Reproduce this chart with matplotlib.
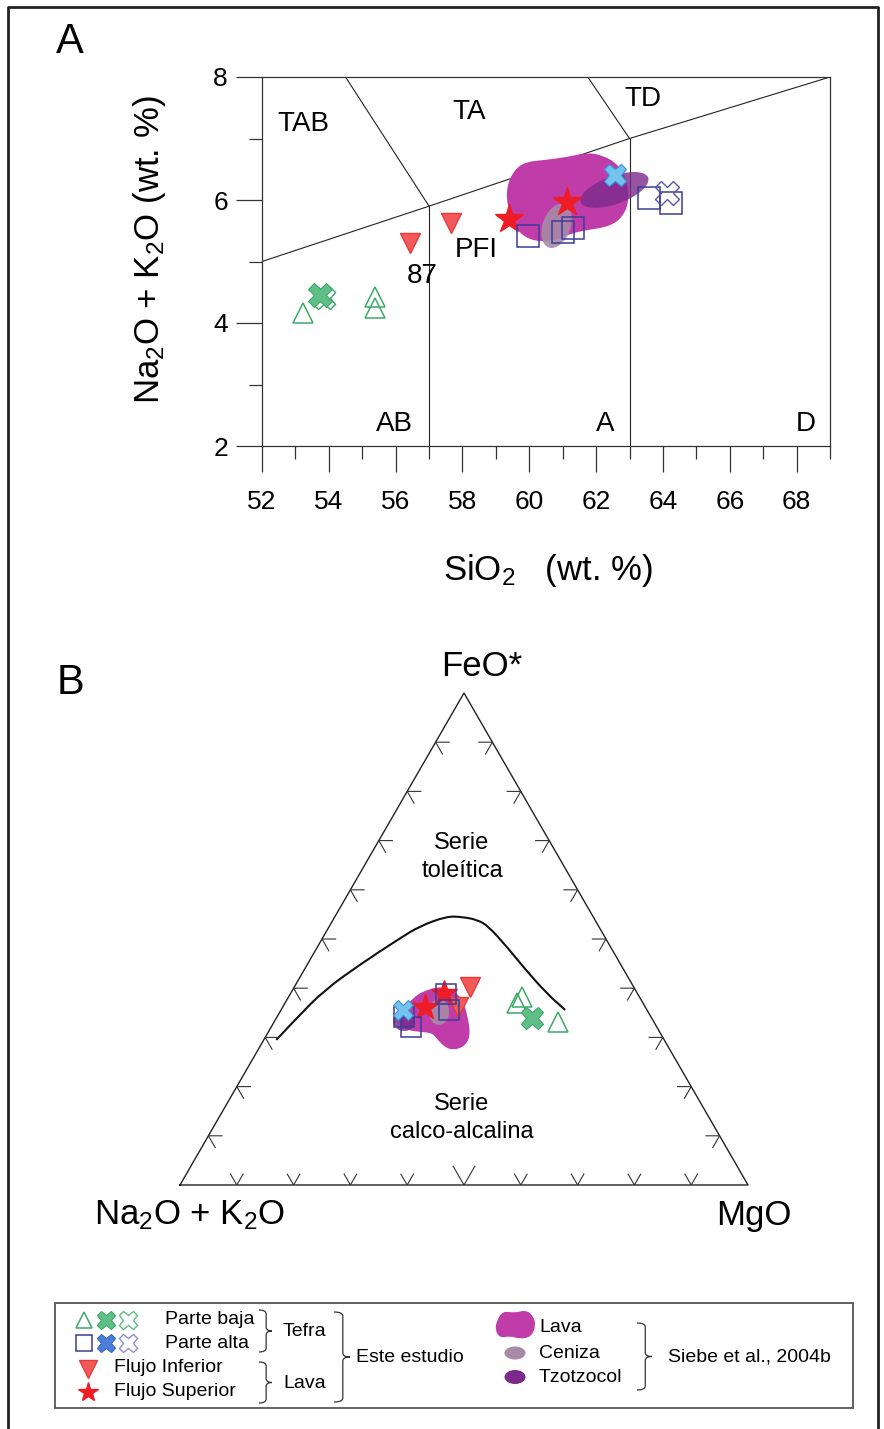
import numpy as np
import matplotlib
matplotlib.use("Agg")
import matplotlib.pyplot as plt
from matplotlib.path import Path
from matplotlib.patches import PathPatch, Rectangle, Ellipse
from matplotlib.ticker import MultipleLocator

plt.rcParams['font.family'] = ['Liberation Sans', 'DejaVu Sans']
plt.rcParams['mathtext.fontset'] = 'custom'
plt.rcParams['mathtext.rm'] = 'Liberation Sans'
plt.rcParams['mathtext.it'] = 'Liberation Sans:italic'

# ---------------- panel A: TAS (SiO2 vs Na2O+K2O) ----------------
baja_tri_si = [53.24, 55.39, 55.39]
baja_tri_alk = [4.16, 4.42, 4.24]
baja_x_si = [53.75]
baja_x_alk = [4.45]
baja_xo_si = [53.85]
baja_xo_alk = [4.40]
alta_sq_si = [59.95, 61.01, 61.30, 63.59, 64.25]
alta_sq_alk = [5.41, 5.48, 5.55, 6.03, 5.95]
alta_x_si = [62.58]
alta_x_alk = [6.41]
alta_xo_si = [64.13]
alta_xo_alk = [6.11]
inf_si = [56.43, 57.65]
inf_alk = [5.30, 5.63]
sup_si = [59.40, 61.13]
sup_alk = [5.69, 5.97]

# fields of Siebe et al. (2004b)
lava_si = [59.55, 59.89, 60.46, 61.15, 61.72, 62.18, 62.64, 62.93, 62.99, 62.81,
           62.41, 61.72, 61.27, 60.81, 60.35, 59.89, 59.55, 59.34, 59.32]
lava_alk = [6.49, 6.62, 6.65, 6.70, 6.77, 6.73, 6.59, 6.32, 6.00, 5.73,
            5.57, 5.51, 5.46, 5.35, 5.32, 5.38, 5.57, 5.89, 6.22]
ceniza_si = [61.07, 61.29, 61.24, 60.93, 60.56, 60.34, 60.39, 60.70]
ceniza_alk = [5.96, 5.79, 5.49, 5.25, 5.20, 5.37, 5.66, 5.91]
tzotz_si = [63.64, 63.43, 62.70, 61.88, 61.45, 61.67, 62.39, 63.21]
tzotz_alk = [6.38, 6.15, 5.93, 5.85, 5.95, 6.17, 6.39, 6.48]

# TAS boundaries
tas_lines = [
    ([52, 57, 63, 69], [5, 5.9, 7, 8]),
    ([57, 57], [2, 5.9]),
    ([63, 63], [2, 7]),
    ([57, 54.5], [5.9, 8]),
    ([63, 61.75], [7, 8]),
]
tas_names = ['TAB', 'TA', 'TD', 'AB', 'A', 'D']
tas_name_si = [53.24, 58.19, 63.41, 55.97, 62.27, 68.26]
tas_name_alk = [7.24, 7.43, 7.65, 2.35, 2.35, 2.35]

# ---------------- panel B: AFM (FeO*, MgO in %) ----------------
b_baja_tri_f = [38.3, 37.0, 33.2]
b_baja_tri_m = [41.0, 40.8, 49.9]
b_baja_x_f = [33.9]
b_baja_x_m = [45.0]
b_alta_sq_f = [38.8, 35.6, 34.2, 32.1]
b_alta_sq_m = [27.4, 29.6, 22.3, 24.6]
b_alta_x_f = [35.6]
b_alta_x_m = [21.5]
b_inf_f = [40.3, 36.2]
b_inf_m = [30.9, 30.9]
b_sup_f = [36.2, 39.0]
b_sup_m = [25.0, 27.0]

b_lava_f = [34.2, 38.2, 40.0, 40.3, 38.2, 34.2, 30.1, 27.9, 27.4, 28.9, 30.9, 31.1, 31.5, 32.5]
b_lava_m = [21.3, 21.9, 24.0, 26.9, 30.5, 33.6, 36.1, 35.9, 33.8, 31.3, 29.1, 26.7, 24.2, 22.5]
b_ceniza_f = [35.2, 33.2, 32.3, 33.2, 35.2, 37.2, 38.0, 37.2]
b_ceniza_m = [29.9, 30.4, 29.4, 27.6, 26.1, 25.6, 26.6, 28.4]
b_tzotz_f = [33.3, 31.8, 31.1, 31.8, 33.3, 34.9, 35.6, 34.9]
b_tzotz_m = [24.9, 25.1, 23.9, 22.1, 20.7, 20.5, 21.7, 23.5]

# Irvine & Baragar (1971) boundary
ib_f = [29.5, 34.0, 39.6, 45.1, 50.2, 52.6, 54.6, 54.5, 53.9, 52.6, 48.2, 44.3, 39.0, 35.6]
ib_m = [2.2, 3.6, 5.6, 9.5, 13.7, 15.9, 19.6, 22.4, 25.4, 28.0, 33.6, 38.3, 45.0, 50.0]

GREEN = '#3ba96a'
GREEN_FILL = '#5fbf86'
NAVY = '#3b3d9a'
LBLUE = '#72c3ef'
LBLUE_EDGE = '#3f8fd6'
XO_BLUE = '#5558ad'
RED_TRI = '#f25a5a'
RED_TRI_EDGE = '#e63a3a'
STAR = '#ee1c25'
LAVA = '#c03ca9'
CENIZA = '#a78aa6'
TZOTZ = '#7b2a8c'


def smooth_closed(xs, ys):
    pts = np.column_stack([xs, ys])
    mids = (pts + np.roll(pts, -1, axis=0)) / 2
    verts = [mids[-1]]
    codes = [Path.MOVETO]
    for i in range(len(pts)):
        verts += [pts[i], mids[i]]
        codes += [Path.CURVE3, Path.CURVE3]
    return Path(verts, codes)


def smooth_open(xs, ys):
    pts = np.column_stack([xs, ys])
    verts = [pts[0]]
    codes = [Path.MOVETO]
    for i in range(1, len(pts) - 1):
        verts += [pts[i], (pts[i] + pts[i + 1]) / 2]
        codes += [Path.CURVE3, Path.CURVE3]
    verts.append(pts[-1])
    codes.append(Path.LINETO)
    return Path(verts, codes)


def tern(f, m):
    f = np.asarray(f) / 100.0
    m = np.asarray(m) / 100.0
    return m + f / 2, f * np.sqrt(3) / 2


def brace(ax, x, y0, y1, w, lw=0.9):
    ym = (y0 + y1) / 2
    r = 4
    xm = x + w * 0.55
    verts = [(x, y0), (xm, y0), (xm, y0 + r), (xm, ym - r), (xm, ym), (x + w, ym),
             (xm, ym), (xm, ym + r), (xm, y1 - r), (xm, y1), (x, y1)]
    codes = [Path.MOVETO, Path.CURVE3, Path.CURVE3, Path.LINETO, Path.CURVE3, Path.CURVE3,
             Path.CURVE3, Path.CURVE3, Path.LINETO, Path.CURVE3, Path.CURVE3]
    ax.add_patch(PathPatch(Path(verts, codes), fc='none', ec='#333333', lw=lw))


fig = plt.figure(figsize=(8.84, 14.29), dpi=100)

# overlay in pixel units (frame, panel letters, labels, legend)
ov = fig.add_axes([0, 0, 1, 1])
ov.set_xlim(0, 884)
ov.set_ylim(1429, 0)
ov.axis('off')
ov.plot([8, 8, 878, 878], [1440, 7, 7, 1440], color='#222222', lw=2)
ov.text(70, 42, 'A', fontsize=30, ha='center', va='center')
ov.text(70, 683, 'B', fontsize=30, ha='center', va='center')
ov.text(150, 250, 'Na$_2$O + K$_2$O (wt. %)', fontsize=25, rotation=90, ha='center', va='center')
ov.text(548, 570, 'SiO$_2$   (wt. %)', fontsize=25, ha='center', va='center')
ov.text(482, 666, 'FeO*', fontsize=25, ha='center', va='center')
ov.text(190, 1215, 'Na$_2$O + K$_2$O', fontsize=25, ha='center', va='center')
ov.text(754, 1215, 'MgO', fontsize=25, ha='center', va='center')
ov.text(462, 857, 'Serie\ntoleítica', fontsize=17, ha='center', va='center', linespacing=1.3)
ov.text(462, 1118, 'Serie\ncalco-alcalina', fontsize=17, ha='center', va='center', linespacing=1.3)

# legend
ov.add_patch(Rectangle((55, 1303), 798, 105, fc='none', ec='#555555', lw=1.3))
ov.plot([84], [1320], '^', ms=12, mfc='none', mec=GREEN, mew=1.1)
ov.plot([106], [1320], 'X', ms=13, mfc=GREEN_FILL, mec=GREEN, mew=0.8)
ov.plot([128], [1320], 'X', ms=13, mfc='none', mec=GREEN_FILL, mew=1.0)
ov.plot([84], [1343], 's', ms=11, mfc='none', mec=NAVY, mew=1.1)
ov.plot([106], [1343], 'X', ms=13, mfc='#4a7fd8', mec='#3a66c0', mew=0.8)
ov.plot([128], [1343], 'X', ms=13, mfc='none', mec='#8c8fd6', mew=1.0)
ov.plot([88], [1369], 'v', ms=13, mfc=RED_TRI, mec=RED_TRI_EDGE)
ov.plot([88], [1392], '*', ms=15, color=STAR)
lfs = 14
ov.text(165, 1320, 'Parte baja', fontsize=lfs, va='center')
ov.text(165, 1343, 'Parte alta', fontsize=lfs, va='center')
ov.text(114, 1368, 'Flujo Inferior', fontsize=lfs, va='center')
ov.text(114, 1392, 'Flujo Superior', fontsize=lfs, va='center')
brace(ov, 259, 1310, 1352, 13)
ov.text(283, 1331, 'Tefra', fontsize=lfs, va='center')
brace(ov, 259, 1362, 1403, 13)
ov.text(283, 1383, 'Lava', fontsize=lfs, va='center')
brace(ov, 334, 1312, 1402, 16)
ov.text(356, 1357, 'Este estudio', fontsize=lfs, va='center')
icon_x = [497, 503, 515, 525, 533, 536, 531, 520, 510, 500, 495]
icon_y = [1320, 1311, 1313, 1310, 1315, 1326, 1337, 1339, 1336, 1338, 1330]
ov.add_patch(PathPatch(smooth_closed(icon_x, icon_y), fc=LAVA, ec='none'))
ov.add_patch(Ellipse((515, 1353), 21, 13, fc=CENIZA, ec='none'))
ov.add_patch(Ellipse((515, 1377), 21, 14, fc=TZOTZ, ec='none'))
ov.text(539, 1328, 'Lava', fontsize=lfs, va='center')
ov.text(539, 1353, 'Ceniza', fontsize=lfs, va='center')
ov.text(539, 1377, 'Tzotzocol', fontsize=lfs, va='center')
brace(ov, 637, 1323, 1390, 15)
ov.text(668, 1357, 'Siebe et al., 2004b', fontsize=lfs, va='center')

# ---------------- panel A ----------------
axa = fig.add_axes([262 / 884, 1 - 446 / 1429, 568 / 884, 369 / 1429])
axa.set_xlim(52, 69)
axa.set_ylim(2, 8)
for s in axa.spines.values():
    s.set_linewidth(0.9)
    s.set_color('#333333')
axa.xaxis.set_major_locator(MultipleLocator(2))
axa.xaxis.set_minor_locator(MultipleLocator(1))
axa.yaxis.set_major_locator(MultipleLocator(2))
axa.yaxis.set_minor_locator(MultipleLocator(1))
axa.set_xticks(range(52, 69, 2))
axa.tick_params(axis='both', which='major', length=18.5, width=0.9, color='#333333', labelsize=19)
axa.tick_params(axis='both', which='minor', length=9.4, width=0.9, color='#333333')
axa.tick_params(axis='x', which='major', pad=13)
axa.tick_params(axis='y', which='major', pad=6)

for xs, ys in tas_lines:
    axa.plot(xs, ys, color='#222222', lw=0.8, zorder=1)
for name, x, y in zip(tas_names, tas_name_si, tas_name_alk):
    axa.text(x, y, name, fontsize=20, ha='center', va='center')
axa.text(56.8, 4.76, '87', fontsize=20, ha='center', va='center')
axa.text(58.4, 5.19, 'PFI', fontsize=20, ha='center', va='center')

axa.add_patch(PathPatch(smooth_closed(lava_si, lava_alk), fc=LAVA, ec='none', zorder=2))
axa.add_patch(PathPatch(smooth_closed(tzotz_si, tzotz_alk), fc=TZOTZ, ec='none', alpha=0.8, zorder=3))
axa.add_patch(PathPatch(smooth_closed(ceniza_si, ceniza_alk), fc=CENIZA, ec='none', alpha=0.9, zorder=3))

mk = dict(ls='none', zorder=5, clip_on=False)
axa.plot(baja_tri_si, baja_tri_alk, '^', ms=15, mfc='none', mec=GREEN, mew=1.1, **mk)
axa.plot(baja_xo_si, baja_xo_alk, 'X', ms=16, mfc='none', mec=GREEN, mew=1.0, **mk)
axa.plot(baja_x_si, baja_x_alk, 'X', ms=17, mfc=GREEN_FILL, mec=GREEN, mew=0.8, **mk)
axa.plot(inf_si, inf_alk, 'v', ms=15, mfc=RED_TRI, mec=RED_TRI_EDGE, mew=1, **mk)
axa.plot(sup_si, sup_alk, '*', ms=21, color=STAR, **mk)
axa.plot(alta_sq_si, alta_sq_alk, 's', ms=16, mfc='none', mec=NAVY, mew=1.1, **mk)
axa.plot(alta_x_si, alta_x_alk, 'X', ms=16, mfc=LBLUE, mec=LBLUE_EDGE, mew=0.8, **mk)
axa.plot(alta_xo_si, alta_xo_alk, 'X', ms=17, mfc='none', mec=XO_BLUE, mew=1.0, **mk)

# ---------------- panel B ----------------
axb = fig.add_axes([180 / 884, 1 - 1185 / 1429, 568 / 884, 492 / 1429])
axb.set_xlim(0, 1)
axb.set_ylim(0, np.sqrt(3) / 2)
axb.axis('off')
h = np.sqrt(3) / 2
axb.plot([0, 1, 0.5, 0], [0, 0, h, 0], color='#222222', lw=1.0, clip_on=False)

# tick marks on the triangle edges
for i in range(1, 10):
    t = i / 10
    L = 0.038 if i == 5 else 0.022
    bx = t
    axb.plot([bx - 0.5 * L, bx, bx + 0.5 * L], [h * L, 0, h * L], color='#333333', lw=0.8)
    L = 0.024
    lx, ly = 0.5 * t, h * t
    axb.plot([lx + L, lx, lx + 0.5 * L], [ly, ly, ly - h * L], color='#333333', lw=0.8)
    rx, ry = 1 - 0.5 * t, h * t
    axb.plot([rx - L, rx, rx - 0.5 * L], [ry, ry, ry - h * L], color='#333333', lw=0.8)

cx, cy = tern(ib_f, ib_m)
axb.add_patch(PathPatch(smooth_open(cx, cy), fc='none', ec='#111111', lw=1.5))

px, py = tern(b_lava_f, b_lava_m)
axb.add_patch(PathPatch(smooth_closed(px, py), fc=LAVA, ec='none', zorder=2))
px, py = tern(b_tzotz_f, b_tzotz_m)
axb.add_patch(PathPatch(smooth_closed(px, py), fc=TZOTZ, ec='none', alpha=0.85, zorder=3))
px, py = tern(b_ceniza_f, b_ceniza_m)
axb.add_patch(PathPatch(smooth_closed(px, py), fc=CENIZA, ec='none', alpha=0.9, zorder=3))

x, y = tern(b_baja_tri_f, b_baja_tri_m)
axb.plot(x, y, '^', ms=14, mfc='none', mec=GREEN, mew=1.1, **mk)
x, y = tern(b_baja_x_f, b_baja_x_m)
axb.plot(x, y, 'X', ms=16, mfc=GREEN_FILL, mec=GREEN, mew=0.8, **mk)
x, y = tern(b_inf_f, b_inf_m)
axb.plot(x, y, 'v', ms=15, mfc=RED_TRI, mec=RED_TRI_EDGE, mew=1, **mk)
x, y = tern(b_sup_f, b_sup_m)
axb.plot(x, y, '*', ms=19, color=STAR, **mk)
x, y = tern(b_alta_sq_f, b_alta_sq_m)
axb.plot(x, y, 's', ms=14, mfc='none', mec=NAVY, mew=1.1, **mk)
x, y = tern(b_alta_x_f, b_alta_x_m)
axb.plot(x, y, 'X', ms=15, mfc=LBLUE, mec=LBLUE_EDGE, mew=0.8, **mk)

fig.savefig('out.png', dpi=100)
